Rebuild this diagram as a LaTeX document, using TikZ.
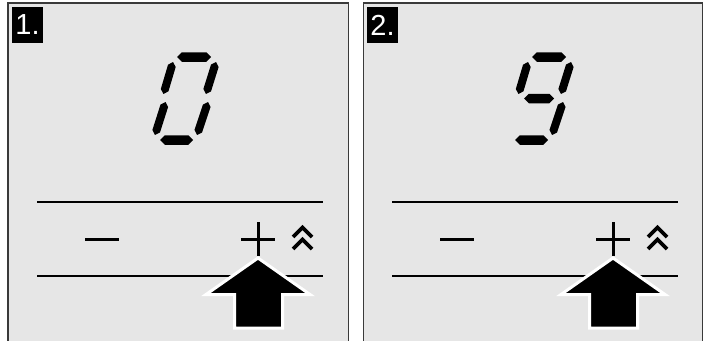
\documentclass[tikz,border=0pt]{standalone}
\usepackage{fontspec}
\setmainfont{Liberation Sans}
\definecolor{panelgray}{HTML}{E6E6E6}
\definecolor{bordergray}{HTML}{3A3A3A}
\newcommand\lcdseg[5]{%
  \pgfmathsetmacro\segang{atan2(-(#4-#2),#3-#1)}%
  \pgfmathsetmacro\seglen{veclen(#3-#1,#4-#2)}%
  \pgfmathsetmacro\segh{#5/2}%
  \fill[shift={(#1,#2)},rotate=\segang]
    (0,0) -- (\segh,\segh) -- (\seglen-\segh,\segh) -- (\seglen,0)
    -- (\seglen-\segh,-\segh) -- (\segh,-\segh) -- cycle;}
\tikzset{
  panel/.style={fill=panelgray, draw=bordergray, line width=1.4pt},
  tag/.style={fill=black, text=white, inner sep=0pt, minimum width=31pt, minimum height=36pt, font=\fontsize{29}{29}\selectfont},
  rule/.style={line width=2.6pt},
  sign/.style={line width=3pt},
  chev/.style={line width=3.6pt, line cap=butt, line join=miter},
  bigarrow/.style={fill=black, draw=white, line width=3pt, line join=miter}
}
\begin{document}
\begin{tikzpicture}[x=1pt,y=-1pt]
\useasboundingbox (0,0) rectangle (708,340);
\clip (0,0) rectangle (708,340);
\fill[white] (0,0) rectangle (708,340);
% panels
\draw[panel] (8,3) rectangle (348.5,350);
\draw[panel] (363.5,3) rectangle (702.7,350);
% panel contents
\foreach \dx/\lab/\nine in {0/1./0, 355/2./1}{
  \begin{scope}[shift={(\dx,0)}]
    \node[tag] (tag\lab) at (27.5,25) {\lab};
    % seven-segment digit
    \lcdseg{177}{57}{211}{57}{9.5}
    \lcdseg{173}{62}{163.5}{94}{8}
    \lcdseg{216}{62}{206}{94}{8}
    \ifnum\nine=0
      \lcdseg{165.5}{102}{155}{135}{8}
    \else
      \lcdseg{169}{98.5}{199}{98.5}{9.5}
    \fi
    \lcdseg{208}{102}{197}{135}{8}
    \lcdseg{160}{140}{193}{140}{9.5}
    % rules
    \coordinate (ul) at (37,202); \coordinate (ur) at (323,202);
    \coordinate (ll) at (37,276); \coordinate (lr) at (323,276);
    \draw[rule] (ul) -- (ur);
    \draw[rule] (ll) -- (lr);
    % minus and plus
    \coordinate (m1) at (85,239); \coordinate (m2) at (119,239);
    \draw[sign] (m1) -- (m2);
    \coordinate (p1) at (241,239); \coordinate (p2) at (275,239);
    \coordinate (p3) at (258,222); \coordinate (p4) at (258,256);
    \draw[sign] (p1) -- (p2);
    \draw[sign] (p3) -- (p4);
    % double chevron
    \draw[chev] (293,237) -- (302.5,227.5) -- (312,237);
    \draw[chev] (293,249) -- (302.5,239.5) -- (312,249);
    % big arrow
    \draw[bigarrow] (258,258) -- (310,294.5) -- (282.5,294.5) -- (282.5,328)
      -- (234.5,328) -- (234.5,294.5) -- (206,294.5) -- cycle;
  \end{scope}
}
\end{tikzpicture}
\end{document}
